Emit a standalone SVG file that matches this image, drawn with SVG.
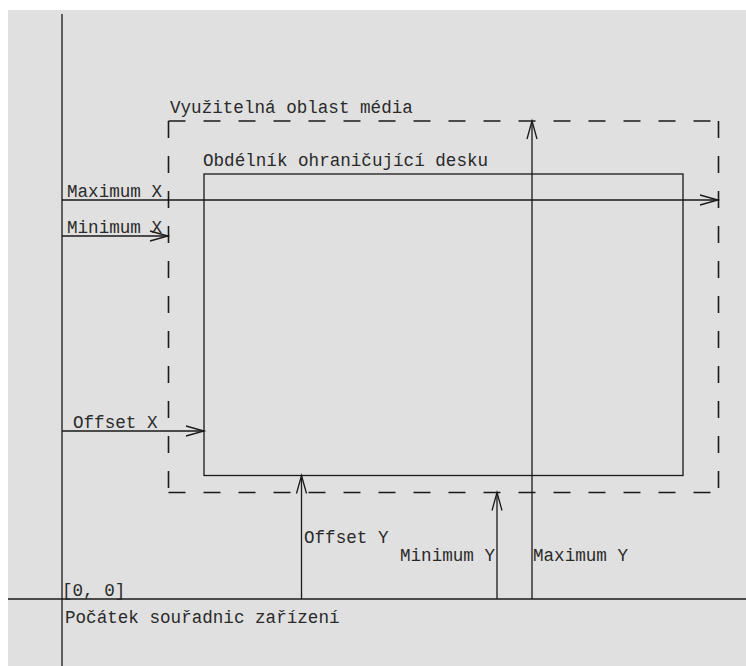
<svg xmlns="http://www.w3.org/2000/svg" width="746" height="666" viewBox="0 0 746 666">
<style>
  .ln{stroke:#1a1a1a;stroke-width:1.3;fill:none}
  .dash{stroke:#1a1a1a;stroke-width:1.6;fill:none;stroke-dasharray:17 18}
  .t{font-family:"Liberation Mono","DejaVu Sans Mono",monospace;font-size:17.6px;fill:#2a2a2a}
</style>
<defs>
  <marker id="ah" markerUnits="userSpaceOnUse" markerWidth="22" markerHeight="14" refX="19" refY="7" orient="auto">
    <path d="M1,2 L19,7 L1,12" fill="none" stroke="#1a1a1a" stroke-width="1.3"/>
  </marker>
</defs>
<rect x="0" y="0" width="746" height="666" fill="#ffffff"/>
<rect x="8" y="10" width="738" height="656" fill="#e0e0e0"/>
<g id="axes">
  <line class="ln" x1="62" y1="14" x2="62" y2="666"/>
  <line class="ln" x1="8" y1="599" x2="746" y2="599"/>
</g>
<g id="media-area">
  <path class="dash" d="M168.5,121 H718.5"/>
  <path class="dash" d="M718.5,121 V492.5"/>
  <path class="dash" d="M168.5,121 V492.5"/>
  <path class="dash" d="M168.5,492.5 H718.5"/>
  <text class="t" x="170" y="113">Využitelná oblast média</text>
</g>
<g id="board-rect">
  <rect class="ln" x="204" y="174" width="479" height="301.5"/>
  <text class="t" x="203" y="166">Obdélník ohraničující desku</text>
</g>
<g id="connectors">
  <line class="ln" x1="62" y1="200" x2="718" y2="200" marker-end="url(#ah)"/>
  <line class="ln" x1="62" y1="236" x2="168" y2="236" marker-end="url(#ah)"/>
  <line class="ln" x1="62" y1="431" x2="204" y2="431" marker-end="url(#ah)"/>
  <line class="ln" x1="532" y1="599" x2="532" y2="121" marker-end="url(#ah)"/>
  <line class="ln" x1="301.5" y1="599" x2="301.5" y2="475.5" marker-end="url(#ah)"/>
  <line class="ln" x1="497" y1="599" x2="497" y2="492.5" marker-end="url(#ah)"/>
</g>
<g id="labels">
  <text class="t" x="67" y="197">Maximum X</text>
  <text class="t" x="67" y="233">Minimum X</text>
  <text class="t" x="73" y="428">Offset X</text>
  <text class="t" x="304" y="543">Offset Y</text>
  <text class="t" x="400" y="561">Minimum Y</text>
  <text class="t" x="533" y="561">Maximum Y</text>
  <text class="t" x="62" y="596">[0, 0]</text>
  <text class="t" x="65" y="623">Počátek souřadnic zařízení</text>
</g>
</svg>
